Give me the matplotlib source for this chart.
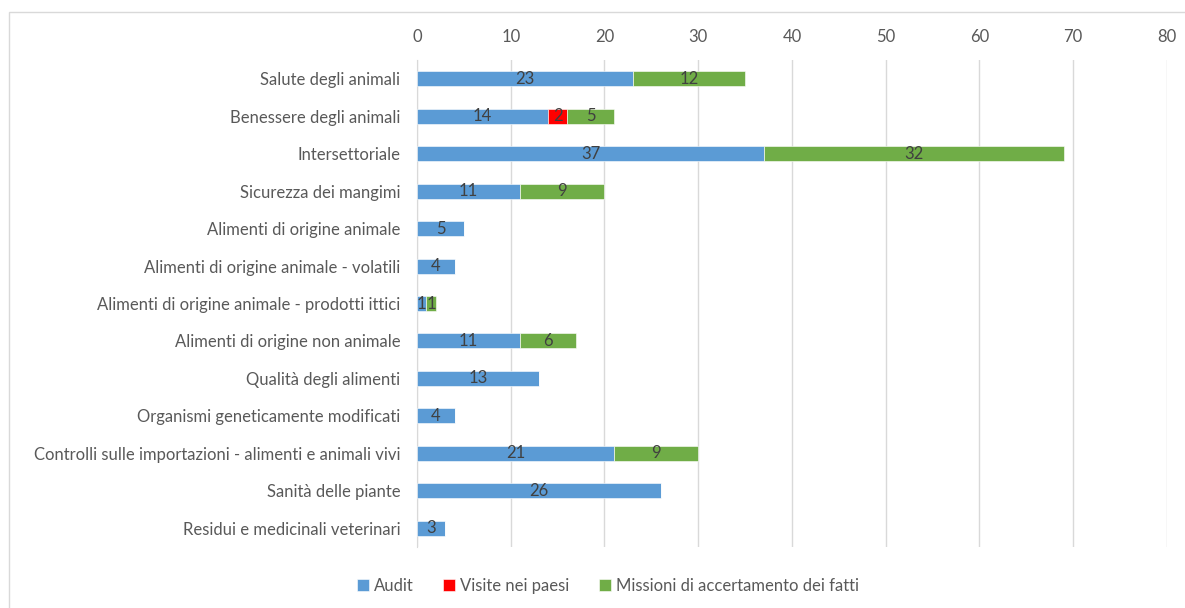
import matplotlib.pyplot as plt
from matplotlib.patches import Rectangle

# categories, top to bottom
categories = [
    "Salute degli animali",
    "Benessere degli animali",
    "Intersettoriale",
    "Sicurezza dei mangimi",
    "Alimenti di origine animale",
    "Alimenti di origine animale - volatili",
    "Alimenti di origine animale - prodotti ittici",
    "Alimenti di origine non animale",
    "Qualità degli alimenti",
    "Organismi geneticamente modificati",
    "Controlli sulle importazioni - alimenti e animali vivi",
    "Sanità delle piante",
    "Residui e medicinali veterinari",
]
audit = [23, 14, 37, 11, 5, 4, 1, 11, 13, 4, 21, 26, 3]
visite = [0, 2, 0, 0, 0, 0, 0, 0, 0, 0, 0, 0, 0]
missioni = [12, 5, 32, 9, 0, 0, 1, 6, 0, 0, 9, 0, 0]

series = [
    ("Audit", audit, "#5B9BD5"),
    ("Visite nei paesi", visite, "#FF0000"),
    ("Missioni di accertamento dei fatti", missioni, "#70AD47"),
]

plt.rcParams['font.family'] = ['Lato', 'DejaVu Sans']
txt = "#595959"
fs = 12

fig = plt.figure(figsize=(11.85, 6.08), dpi=100)
ax = fig.add_axes([0.3519, 0.1003, 0.6329, 0.8010])

# light frame around the chart area
fig.patches.append(Rectangle((9 / 1185, -0.1), 1.2, 1 - 12 / 608 + 0.1,
                             transform=fig.transFigure, fill=False,
                             edgecolor="#D9D9D9", linewidth=1.0))

y = list(range(len(categories)))
left = [0] * len(categories)
for name, vals, col in series:
    bars = ax.barh(y, vals, left=left, height=0.4, color=col, label=name,
                   edgecolor="white", linewidth=0.4, zorder=3)
    for b, v in zip(bars, vals):
        if v > 0:
            ax.text(b.get_x() + b.get_width() / 2, b.get_y() + b.get_height() / 2,
                    str(v), ha="center", va="center", color="#404040",
                    fontsize=fs, zorder=4)
    left = [l + v for l, v in zip(left, vals)]

ax.set_xlim(0, 80)
ax.set_ylim(len(categories) - 0.5, -0.5)
ax.set_xticks(range(0, 81, 10))
ax.xaxis.tick_top()
ax.set_yticks(y)
ax.set_yticklabels(categories)
ax.tick_params(axis="both", length=0, colors=txt, labelsize=fs)
ax.tick_params(axis="x", pad=11)
ax.tick_params(axis="y", pad=12)
ax.grid(axis="x", color="#D9D9D9", linewidth=1.0, zorder=0)
for s in ["top", "right", "bottom"]:
    ax.spines[s].set_visible(False)
ax.spines["left"].set_color("#D9D9D9")
ax.spines["left"].set_zorder(2)

leg = fig.legend(loc="center", bbox_to_anchor=(0.513, 1 - 586 / 608), ncol=3,
                 frameon=False, fontsize=fs, handlelength=0.7, handleheight=0.7,
                 handletextpad=0.3, columnspacing=1.8)
for t in leg.get_texts():
    t.set_color(txt)

fig.savefig("out.png", dpi=100)
